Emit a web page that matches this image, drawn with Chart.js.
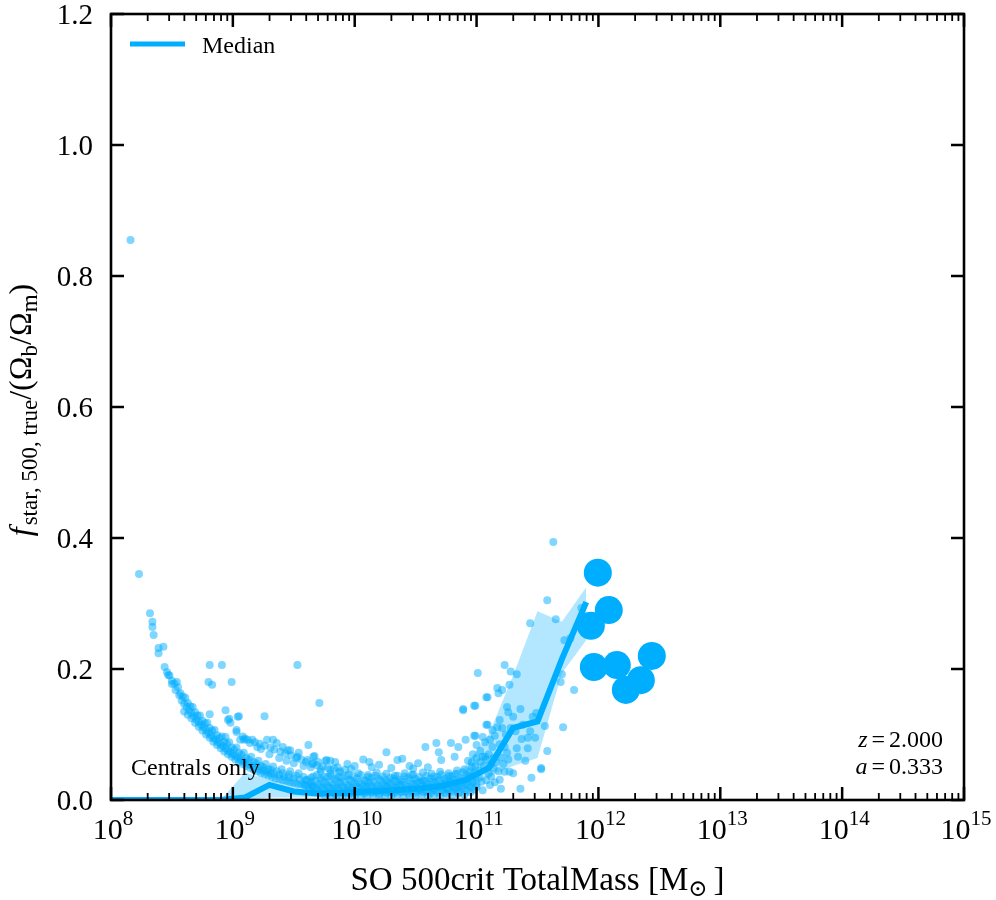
<!DOCTYPE html>
<html>
<head>
<meta charset="utf-8">
<script src="https://cdn.jsdelivr.net/npm/chart.js@4.4.1/dist/chart.umd.min.js"></script>
<style>
  body { margin: 0; background: #fff; }
  #wrap { width: 996px; height: 900px; position: relative; }
</style>
</head>
<body>
<div id="wrap"><canvas id="plot"></canvas></div>
<script>
// axis ticks
var xTickExps = [8, 9, 10, 11, 12, 13, 14, 15];
var yTicks = [0.0, 0.2, 0.4, 0.6, 0.8, 1.0, 1.2];
var yTickLabels = ["0.0", "0.2", "0.4", "0.6", "0.8", "1.0", "1.2"];

// median curve and its scatter band (log10 mass bins)
var medianLogM = [7.9, 8.1, 8.3, 8.5, 8.7, 8.9, 9.1, 9.3, 9.5, 9.7, 9.9, 10.1, 10.3, 10.5, 10.7, 10.9, 11.1, 11.3, 11.5, 11.7, 11.9];
var medianFrac = [0, 0, 0, 0, 0, 0, 0.004, 0.023, 0.013, 0.010, 0.011, 0.013, 0.015, 0.017, 0.021, 0.030, 0.049, 0.110, 0.120, 0.215, 0.302];
var bandLogM = [8.9, 9.1, 9.3, 9.5, 9.7, 9.9, 10.1, 10.3, 10.5, 10.7, 10.9, 11.1, 11.3, 11.5, 11.7, 11.9];
var bandLow = [0, 0, 0.004, 0.004, 0.004, 0.005, 0.006, 0.007, 0.008, 0.010, 0.014, 0.035, 0.052, 0.064, 0.194, 0.244];
var bandHigh = [0, 0.042, 0.030, 0.026, 0.024, 0.024, 0.026, 0.028, 0.031, 0.036, 0.050, 0.100, 0.190, 0.288, 0.272, 0.325];

// large haloes shown as big markers
var bigLogM = [11.995, 12.085, 11.938, 11.962, 12.151, 12.225, 12.348, 12.438];
var bigFrac = [0.347, 0.290, 0.266, 0.203, 0.206, 0.168, 0.183, 0.220];

// individual haloes [log10 M, f]
var ridgePts = [
  [8.16,0.855],[8.23,0.345],[8.32,0.285],[8.34,0.272],[8.34,0.264],[8.35,0.252],[8.39,0.232],[8.43,0.234],
  [8.39,0.224],[8.44,0.203],[8.47,0.191],[8.50,0.177],[8.54,0.180],
  [8.46,0.195],[8.50,0.182],[8.53,0.168],[8.56,0.160],[8.58,0.152],[8.60,0.147],[8.62,0.142],[8.64,0.137],
  [8.66,0.133],[8.68,0.128],[8.70,0.123],[8.72,0.119],[8.74,0.115],[8.76,0.111],[8.78,0.107],[8.80,0.103],
  [8.82,0.099],[8.84,0.095],[8.86,0.092],[8.88,0.088],[8.90,0.085],[8.92,0.082],[8.94,0.079],[8.96,0.076],
  [8.98,0.073],[9.00,0.070],[9.02,0.068],[9.04,0.065],[9.06,0.062],[9.08,0.060],[9.10,0.058],[9.13,0.055],
  [9.16,0.052],[9.19,0.050],[9.22,0.047],[9.25,0.045],[9.28,0.043],[9.31,0.041],[9.34,0.040],[9.38,0.038],
  [9.42,0.036],[9.46,0.034],[9.50,0.033],[9.55,0.031],[9.60,0.030],
  [8.55,0.172],[8.61,0.156],[8.67,0.142],[8.73,0.129],[8.79,0.118],[8.85,0.107],[8.91,0.097],[8.97,0.088],
  [9.03,0.080],[9.09,0.072],[9.15,0.066],[9.21,0.060],[9.27,0.055],[9.33,0.051],[9.40,0.047],[9.47,0.044],
  [9.54,0.041],
  [8.60,0.135],[8.66,0.125],[8.72,0.112],[8.78,0.100],[8.84,0.089],[8.90,0.079],[8.96,0.070],[9.02,0.062],
  [9.08,0.055],[9.14,0.049],[9.20,0.044],[9.26,0.039],[9.32,0.035],[9.38,0.032],[9.44,0.029],[9.50,0.026],
  [9.56,0.024],
  [8.48,0.190],[8.52,0.178],[8.57,0.163],[8.59,0.158],[8.63,0.148],[8.65,0.143],[8.69,0.134],[8.71,0.129],
  [8.75,0.121],[8.77,0.117],[8.81,0.110],[8.83,0.106],[8.87,0.099],[8.89,0.095],[8.93,0.089],[8.95,0.086],
  [8.99,0.080],[9.01,0.077],[9.05,0.072],[9.07,0.069],[9.11,0.064],[9.13,0.062],[9.17,0.058],[9.19,0.056],
  [9.23,0.052],[9.25,0.050],[9.29,0.047],[9.31,0.046],[9.36,0.044],[9.41,0.041],[9.46,0.039],[9.52,0.037],
  [9.58,0.035],[9.64,0.034],
  [8.63,0.130],[8.69,0.118],[8.75,0.106],[8.81,0.095],[8.87,0.084],[8.93,0.074],[8.99,0.066],[9.05,0.058],
  [9.11,0.052],[9.17,0.046],[9.23,0.041],[9.29,0.037],[9.35,0.033],[9.41,0.030],[9.47,0.027],[9.53,0.025],
  [9.59,0.023],[9.65,0.022]
];
var secondPts = [
  [8.81,0.206],[8.91,0.206],[8.80,0.180],[8.83,0.176],[8.99,0.180],[8.94,0.137],[8.96,0.122],[9.04,0.127],
  [8.98,0.118],[9.03,0.107],[9.06,0.092],[9.12,0.092],[9.14,0.087],[9.20,0.081],[9.28,0.092],[9.33,0.092],
  [9.36,0.087],[9.41,0.081],[9.47,0.076],[9.53,0.066],[9.61,0.061],[9.66,0.056],[9.53,0.206],[9.26,0.128],
  [8.81,0.131],[9.71,0.148],[9.05,0.128],[8.97,0.124],[9.62,0.084],[9.66,0.066],[8.94,0.096],[9.03,0.104],
  [9.09,0.092],[9.16,0.092],[9.45,0.076],[9.54,0.072],[9.70,0.058],[9.77,0.061],[9.84,0.058],[9.23,0.078],
  [9.30,0.070],[9.38,0.064],[9.44,0.060],[9.50,0.056],[9.58,0.052],[9.64,0.050],[9.72,0.047],[9.80,0.046],
  [9.88,0.044],
  [9.08,0.097],[9.10,0.094],[9.18,0.088],[9.22,0.086],[9.26,0.083],[9.31,0.080],[9.34,0.077],[9.39,0.074],
  [9.43,0.071],[9.48,0.068],[9.52,0.064],[9.56,0.062],[9.60,0.058],[9.65,0.055],[9.69,0.053],[9.74,0.051],
  [9.78,0.049],[9.83,0.048],[9.86,0.050],[9.92,0.046],[9.97,0.047]
];
var sparsePts = [
  [10.26,0.073],[10.35,0.061],[10.07,0.062],[9.94,0.055],[9.67,0.067],[9.76,0.060],[9.80,0.060],[10.39,0.063],
  [10.71,0.061],[10.82,0.066],[11.00,0.084],[11.05,0.066],[10.58,0.081],[10.67,0.087],[10.69,0.073],[10.79,0.087],
  [10.85,0.081],[10.91,0.092],[10.98,0.098],[10.89,0.139],[10.98,0.144],[11.08,0.157],[11.08,0.115],[10.00,0.052],
  [10.14,0.050],[10.20,0.054],[10.45,0.052],[10.52,0.056],[10.60,0.050],[10.12,0.058],[10.48,0.048],[10.30,0.049]
];
var cloudPts = [
  [9.72,0.043],[9.80,0.040],[9.87,0.042],[9.95,0.039],[10.03,0.041],[10.11,0.038],[10.18,0.042],[10.26,0.040],
  [10.33,0.037],[10.41,0.041],[10.48,0.039],[10.56,0.042],[10.63,0.040],[10.70,0.043],[10.77,0.041],[10.84,0.045],
  [10.90,0.047],[10.96,0.050],
  [9.69,0.038],[9.75,0.036],[9.81,0.037],[9.87,0.035],[9.93,0.037],[9.99,0.036],[10.05,0.038],[10.11,0.035],
  [10.17,0.037],[10.23,0.036],[10.29,0.034],[10.35,0.037],[10.41,0.036],[10.47,0.038],[10.53,0.035],[10.59,0.037],
  [10.65,0.036],[10.71,0.039],[10.77,0.037],[10.83,0.040],[10.89,0.042],[10.95,0.044],
  [9.66,0.036],[9.72,0.033],[9.78,0.035],[9.84,0.032],[9.90,0.034],[9.96,0.031],[10.02,0.033],[10.08,0.030],
  [10.14,0.034],[10.20,0.032],[10.26,0.030],[10.32,0.033],[10.38,0.031],[10.44,0.034],[10.50,0.032],[10.56,0.030],
  [10.62,0.033],[10.68,0.035],[10.74,0.032],[10.80,0.036],[10.86,0.034],[10.92,0.038],[10.98,0.041],
  [9.61,0.031],[9.67,0.029],[9.73,0.030],[9.79,0.028],[9.85,0.030],[9.91,0.028],[9.97,0.029],[10.03,0.027],
  [10.09,0.029],[10.15,0.028],[10.21,0.030],[10.27,0.027],[10.33,0.029],[10.39,0.028],[10.45,0.030],[10.51,0.028],
  [10.57,0.029],[10.63,0.028],[10.69,0.030],[10.75,0.029],[10.81,0.031],[10.87,0.030],[10.93,0.033],[10.99,0.036],
  [9.64,0.027],[9.70,0.025],[9.76,0.026],[9.82,0.024],[9.88,0.026],[9.94,0.023],[10.00,0.025],[10.06,0.024],
  [10.12,0.026],[10.18,0.023],[10.24,0.025],[10.30,0.024],[10.36,0.026],[10.42,0.023],[10.48,0.025],[10.54,0.027],
  [10.60,0.024],[10.66,0.026],[10.72,0.025],[10.78,0.028],[10.84,0.026],[10.90,0.029],[10.96,0.031],[11.02,0.034],
  [9.59,0.023],[9.65,0.022],[9.71,0.021],[9.77,0.022],[9.83,0.020],[9.89,0.022],[9.95,0.020],[10.01,0.021],
  [10.07,0.020],[10.13,0.022],[10.19,0.020],[10.25,0.021],[10.31,0.020],[10.37,0.022],[10.43,0.020],[10.49,0.021],
  [10.55,0.022],[10.61,0.020],[10.67,0.022],[10.73,0.021],[10.79,0.023],[10.85,0.022],[10.91,0.025],[10.97,0.027],
  [9.62,0.020],[9.68,0.018],[9.74,0.019],[9.80,0.017],[9.86,0.019],[9.92,0.016],[9.98,0.018],[10.04,0.017],
  [10.10,0.019],[10.16,0.016],[10.22,0.018],[10.28,0.017],[10.34,0.019],[10.40,0.016],[10.46,0.018],[10.52,0.017],
  [10.58,0.019],[10.64,0.018],[10.70,0.020],[10.76,0.017],[10.82,0.019],[10.88,0.021],[10.94,0.022],[11.00,0.024],
  [9.63,0.015],[9.69,0.014],[9.75,0.015],[9.81,0.013],[9.87,0.015],[9.93,0.013],[9.99,0.014],[10.05,0.013],
  [10.11,0.015],[10.17,0.013],[10.23,0.014],[10.29,0.013],[10.35,0.015],[10.41,0.013],[10.47,0.014],[10.53,0.015],
  [10.59,0.013],[10.65,0.015],[10.71,0.014],[10.77,0.015],[10.83,0.016],[10.89,0.017],[10.95,0.019],
  [9.66,0.012],[9.72,0.010],[9.78,0.011],[9.84,0.009],[9.90,0.011],[9.96,0.010],[10.02,0.012],[10.08,0.010],
  [10.14,0.011],[10.20,0.009],[10.26,0.011],[10.32,0.010],[10.38,0.012],[10.44,0.010],[10.50,0.011],[10.56,0.012],
  [10.62,0.010],[10.68,0.012],[10.74,0.011],[10.80,0.013],[10.86,0.012],[10.92,0.014],[10.98,0.016],
  [9.75,0.008],[9.85,0.007],[9.95,0.008],[10.05,0.007],[10.15,0.008],[10.25,0.007],[10.35,0.008],[10.45,0.007],
  [10.55,0.008],[10.65,0.008],[10.75,0.009],[10.85,0.010],[10.95,0.012],
  [9.80,0.005],[9.90,0.004],[10.00,0.006],[10.10,0.004],[10.20,0.005],[10.30,0.006],[10.40,0.004],[10.50,0.005],
  [10.60,0.006],[10.70,0.005],[10.80,0.007],[10.90,0.008]
];
var risePts = [
  [11.58,0.305],[11.44,0.270],[11.65,0.276],[11.72,0.244],[11.77,0.247],[11.86,0.293],[11.01,0.194],[11.23,0.206],
  [11.28,0.196],[11.33,0.192],[11.27,0.176],[11.21,0.168],[11.18,0.163],[11.09,0.157],[10.99,0.144],[11.70,0.192],
  [11.69,0.180],[11.80,0.168],[11.36,0.139],[11.25,0.142],[11.26,0.134],[11.30,0.127],[11.49,0.133],[11.46,0.127],
  [11.56,0.113],[11.71,0.111],[11.19,0.122],[11.17,0.111],[11.09,0.115],[11.13,0.107],[11.21,0.110],[11.05,0.096],
  [10.99,0.098],[11.37,0.093],[11.42,0.095],[11.48,0.095],[11.33,0.079],[11.42,0.079],[11.58,0.075],[11.23,0.081],
  [11.13,0.081],[11.07,0.066],[11.00,0.064],[11.53,0.047],[11.27,0.043],[11.23,0.043],[11.30,0.041],[11.45,0.034],
  [11.19,0.031],[11.36,0.017],[11.20,0.017],[11.11,0.023],[11.05,0.015],[11.15,0.027],[11.63,0.394],[11.53,0.049],
  [10.89,0.137],[11.17,0.171],
  [11.02,0.045],[11.06,0.052],[11.10,0.040],[11.14,0.048],[11.08,0.030],[11.12,0.036],[11.16,0.058],[11.04,0.028],
  [11.18,0.044],[11.22,0.055],[11.26,0.062],[11.10,0.070],[11.14,0.064],[10.96,0.058],[10.94,0.036],[11.00,0.020],
  [10.93,0.060],[10.97,0.070],[11.03,0.075],[11.07,0.088],[11.11,0.092],[11.15,0.098],[11.19,0.085],[11.24,0.100],
  [11.28,0.110],[11.32,0.105],[11.12,0.055],[11.08,0.062],[11.03,0.058],[10.99,0.052],[11.20,0.065],[11.25,0.072],
  [11.34,0.066],[11.40,0.060],[11.38,0.115],[11.44,0.105]
];

var BLUE = "rgb(0,174,255)";
var SERIF = "'Liberation Serif', 'DejaVu Serif', 'Times New Roman', serif";

function toXY(logm, frac) {
  return logm.map(function (lm, i) { return { x: Math.pow(10, lm), y: frac[i] }; });
}
function pairsXY(pts) {
  return pts.map(function (p) { return { x: Math.pow(10, p[0]), y: p[1] }; });
}

// draw a row of text runs (sub/superscripts)
function runsWidth(ctx, runs) {
  var w = 0;
  runs.forEach(function (r) {
    ctx.font = (r.italic ? "italic " : "") + r.size + "px " + SERIF;
    w += ctx.measureText(r.t).width + (r.gap || 0);
  });
  return w;
}
function drawRuns(ctx, runs, x, y, align) {
  var w = runsWidth(ctx, runs);
  var cx = x;
  if (align === "center") cx = x - w / 2;
  if (align === "right") cx = x - w;
  ctx.textAlign = "left";
  ctx.textBaseline = "alphabetic";
  runs.forEach(function (r) {
    ctx.font = (r.italic ? "italic " : "") + r.size + "px " + SERIF;
    ctx.fillText(r.t, cx, y + (r.dy || 0));
    cx += ctx.measureText(r.t).width + (r.gap || 0);
  });
}

var framePlugin = {
  id: "frame",
  afterDraw: function (chart) {
    var ctx = chart.ctx;
    var a = chart.chartArea;
    var xs = chart.scales.x, ys = chart.scales.y;
    ctx.save();
    ctx.fillStyle = "#000";
    ctx.strokeStyle = "#000";

    // ticks on all four sides, pointing inwards
    ctx.lineCap = "butt";
    xTickExps.forEach(function (e, i) {
      var px = xs.getPixelForValue(Math.pow(10, e));
      ctx.lineWidth = 2.5;
      ctx.beginPath();
      ctx.moveTo(px, a.bottom); ctx.lineTo(px, a.bottom - 13);
      ctx.moveTo(px, a.top); ctx.lineTo(px, a.top + 13);
      ctx.stroke();
      if (i < xTickExps.length - 1) {
        ctx.lineWidth = 1.8;
        for (var m = 2; m <= 9; m++) {
          var mx = xs.getPixelForValue(m * Math.pow(10, e));
          ctx.beginPath();
          ctx.moveTo(mx, a.bottom); ctx.lineTo(mx, a.bottom - 7);
          ctx.moveTo(mx, a.top); ctx.lineTo(mx, a.top + 7);
          ctx.stroke();
        }
      }
      drawRuns(ctx, [
        { t: "10", size: 30 },
        { t: String(e), size: 21, dy: -14 }
      ], px + 2, a.bottom + 39, "center");
    });
    yTicks.forEach(function (v, i) {
      var py = ys.getPixelForValue(v);
      ctx.lineWidth = 2.5;
      ctx.beginPath();
      ctx.moveTo(a.left, py); ctx.lineTo(a.left + 13, py);
      ctx.moveTo(a.right, py); ctx.lineTo(a.right - 13, py);
      ctx.stroke();
      ctx.font = "29px " + SERIF;
      ctx.textAlign = "right";
      ctx.textBaseline = "alphabetic";
      ctx.fillText(yTickLabels[i], a.left - 18, py + 10);
    });

    ctx.lineWidth = 2.6;
    ctx.strokeRect(a.left, a.top, a.right - a.left, a.bottom - a.top);

    // axis titles
    drawRuns(ctx, [
      { t: "SO 500crit TotalMass [M", size: 33 },
      { t: "\u2299", size: 23, dy: 6, gap: 6 },
      { t: "]", size: 33 }
    ], (a.left + a.right) / 2, a.bottom + 90, "center");

    ctx.save();
    ctx.translate(31, (a.top + a.bottom) / 2 + 3);
    ctx.rotate(-Math.PI / 2);
    drawRuns(ctx, [
      { t: "f", size: 32, italic: true, gap: 2 },
      { t: "star, 500, true", size: 23, dy: 6 },
      { t: "/(\u03A9", size: 32 },
      { t: "b", size: 23, dy: 6 },
      { t: "/\u03A9", size: 32 },
      { t: "m", size: 23, dy: 6 },
      { t: ")", size: 32 }
    ], 0, 0, "center");
    ctx.restore();

    // legend
    ctx.strokeStyle = BLUE;
    ctx.lineWidth = 5;
    ctx.beginPath();
    ctx.moveTo(130, 44); ctx.lineTo(185, 44);
    ctx.stroke();
    ctx.fillStyle = "#000";
    drawRuns(ctx, [{ t: "Median", size: 24 }], 202, 53, "left");

    // annotations
    drawRuns(ctx, [{ t: "Centrals only", size: 24 }], 131, 775, "left");
    drawRuns(ctx, [
      { t: "z", size: 24, italic: true, gap: 4 },
      { t: "=", size: 24, gap: 4 },
      { t: "2.000", size: 24 }
    ], 943, 747, "right");
    drawRuns(ctx, [
      { t: "a", size: 24, italic: true, gap: 4 },
      { t: "=", size: 24, gap: 4 },
      { t: "0.333", size: 24 }
    ], 943, 774, "right");
    ctx.restore();
  }
};

function scatterSet(pts) {
  return {
    data: pairsXY(pts),
    showLine: false,
    pointRadius: 4,
    pointBorderWidth: 0,
    pointBackgroundColor: "rgba(0,174,255,0.5)",
    order: 4
  };
}

var ctx = document.getElementById("plot").getContext("2d");
var chart = new Chart(ctx, {
  type: "line",
  data: {
    datasets: [
      {
        label: "big",
        data: toXY(bigLogM, bigFrac),
        showLine: false,
        pointRadius: 14,
        pointBorderWidth: 0,
        pointBackgroundColor: BLUE,
        order: 0
      },
      {
        label: "Median",
        data: toXY(medianLogM, medianFrac),
        borderColor: BLUE,
        borderWidth: 6,
        pointRadius: 0,
        tension: 0,
        fill: false,
        order: 1
      },
      {
        label: "low",
        data: toXY(bandLogM, bandLow),
        borderWidth: 0,
        pointRadius: 0,
        fill: false,
        order: 3
      },
      {
        label: "high",
        data: toXY(bandLogM, bandHigh),
        borderWidth: 0,
        pointRadius: 0,
        backgroundColor: "rgba(0,174,255,0.3)",
        fill: { target: 2 },
        order: 2
      },
      scatterSet(ridgePts),
      scatterSet(secondPts),
      scatterSet(sparsePts),
      scatterSet(cloudPts),
      scatterSet(risePts)
    ]
  },
  options: {
    responsive: true,
    maintainAspectRatio: false,
    animation: false,
    layout: { padding: { left: 111, top: 14, right: 32, bottom: 100 } },
    plugins: { legend: { display: false }, tooltip: { enabled: false } },
    scales: {
      x: { type: "logarithmic", min: 1e8, max: 1e15, display: false },
      y: { type: "linear", min: 0, max: 1.2, display: false }
    }
  },
  plugins: [framePlugin]
});
</script>
</body>
</html>
